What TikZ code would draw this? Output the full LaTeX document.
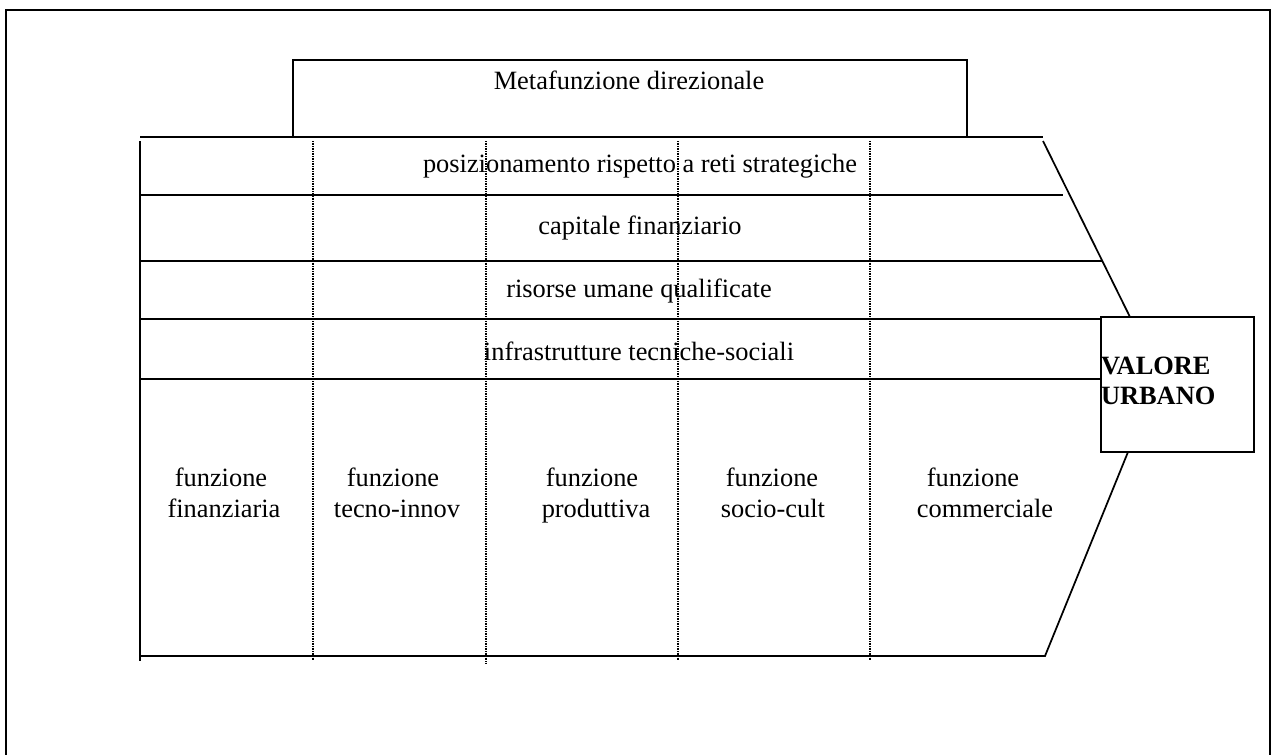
\documentclass[tikz,border=0pt]{standalone}
\usepackage{fontspec}
\setmainfont{Liberation Serif}
\begin{document}
\begin{tikzpicture}[x=0.75pt,y=-0.75pt,
  every node/.style={font=\fontsize{19.8}{23.25}\selectfont, inner sep=0pt, outer sep=0pt},
  frameline/.style={line width=1.5pt},
  tableline/.style={line width=1.3pt},
  colline/.style={line width=0.9pt, dash pattern=on 0.75pt off 0.5pt},
  boxline/.style={draw, line width=0.9pt},
  txt/.style={anchor=base},
  boldtxt/.style={anchor=base west, font=\fontsize{19.8}{23.25}\selectfont\bfseries}]
\useasboundingbox (0,0) rectangle (1274,754);
% outer frame
\draw[frameline] (6,10) rectangle (1270,757);
% Metafunzione box (open at the bottom, closed by the top table line)
\coordinate (mbl) at (293,137);
\coordinate (mtl) at (293,60);
\coordinate (mtr) at (967,60);
\coordinate (mbr) at (967,137);
\draw[tableline] (mbl) -- (mtl) -- (mtr) -- (mbr);
\node[txt] (meta) at (629,89) {Metafunzione direzionale};
% table horizontal lines
\coordinate (t0l) at (140,137); \coordinate (t0r) at (1043,137);
\coordinate (t1l) at (140,195); \coordinate (t1r) at (1063,195);
\coordinate (t2l) at (140,261); \coordinate (t2r) at (1102,261);
\coordinate (t3l) at (140,319); \coordinate (t3r) at (1101,319);
\coordinate (t4l) at (140,379); \coordinate (t4r) at (1101,379);
\coordinate (bl) at (140,656); \coordinate (br) at (1045,656);
\draw[tableline] (t0l) -- (t0r);
\draw[tableline] (t1l) -- (t1r);
\draw[tableline] (t2l) -- (t2r);
\draw[tableline] (t3l) -- (t3r);
\draw[tableline] (t4l) -- (t4r);
% left border
\coordinate (lt) at (140,141); \coordinate (lb) at (140,661);
\draw[tableline] (lt) -- (lb);
% VALORE URBANO box
\node[boxline, minimum width=153*0.75pt, minimum height=135*0.75pt, anchor=north west] (valore) at (1101,317) {};
\node[boldtxt] (val1) at (1101,374) {VALORE};
\node[boldtxt] (val2) at (1101,404) {URBANO};
% slanted sides
\coordinate (dtop) at (1043,141);
\coordinate (dtv) at (1130,317);
\coordinate (dbv) at (1128,452);
\draw[tableline] (dtop) -- (dtv);
\draw[tableline] (bl) -- (br) -- (dbv);
% dotted column lines
\foreach \xx/\yy in {313/661, 486/664, 678/661, 870/661}{
  \coordinate (ct\xx) at (\xx,141);
  \coordinate (cb\xx) at (\xx,\yy);
  \draw[colline] (ct\xx) -- (cb\xx);
}
% row texts
\node[txt] (r1) at (640,172) {posizionamento rispetto a reti strategiche};
\node[txt] (r2) at (640,234) {capitale finanziario};
\node[txt] (r3) at (639,297) {risorse umane qualificate};
\node[txt] (r4) at (639,360) {infrastrutture tecniche-sociali};
% function labels
\node[txt] (f1a) at (221,486) {funzione};
\node[txt] (f1b) at (224,517) {finanziaria};
\node[txt] (f2a) at (393,486) {funzione};
\node[txt] (f2b) at (397,517) {tecno-innov};
\node[txt] (f3a) at (592,486) {funzione};
\node[txt] (f3b) at (596,517) {produttiva};
\node[txt] (f4a) at (772,486) {funzione};
\node[txt] (f4b) at (773,517) {socio-cult};
\node[txt] (f5a) at (973,486) {funzione};
\node[txt] (f5b) at (985,517) {commerciale};
\end{tikzpicture}
\end{document}
